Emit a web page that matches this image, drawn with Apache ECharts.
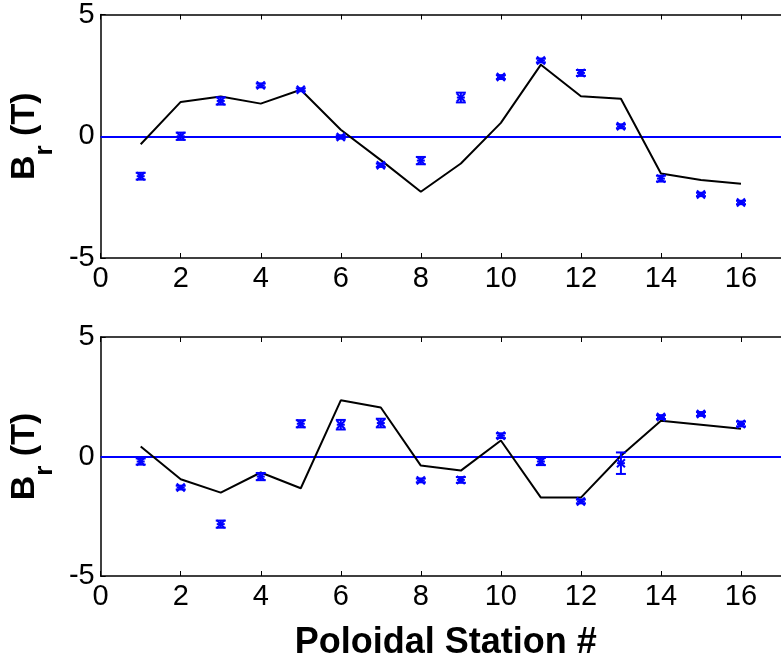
<!DOCTYPE html>
<html><head><meta charset="utf-8">
<script src="https://cdn.jsdelivr.net/npm/echarts@6/dist/echarts.min.js"></script>
<style>html,body{margin:0;padding:0;background:#fff}#c{width:781px;height:663px}</style>
</head><body><div id="c"></div>
<script>
const stations = [1,2,3,4,5,6,7,8,9,10,11,12,13,14,15,16];
const topModel = [-0.33,1.41,1.63,1.34,1.91,0.27,-0.98,-2.28,-1.12,0.55,2.94,1.64,1.54,-1.53,-1.80,-1.95];
const topMeas  = [-1.64,0.00,1.45,2.09,1.91,-0.03,-1.19,-1.00,1.59,2.43,3.11,2.60,0.41,-1.74,-2.39,-2.72];
const topErr   = [0.14,0.15,0.15,0.08,0.06,0.07,0.07,0.15,0.20,0.08,0.08,0.12,0.08,0.12,0.07,0.07];
const botModel = [0.42,-0.95,-1.51,-0.67,-1.33,2.35,2.05,-0.38,-0.59,0.67,-1.72,-1.72,0.03,1.50,1.33,1.16];
const botMeas  = [-0.21,-1.30,-2.83,-0.84,1.37,1.33,1.40,-1.00,-0.98,0.87,-0.21,-1.88,-0.28,1.65,1.78,1.36];
const botErr   = [0.13,0.08,0.15,0.15,0.15,0.20,0.18,0.08,0.12,0.10,0.15,0.08,0.45,0.08,0.08,0.10];
const xTickLabels = ['0','2','4','6','8','10','12','14','16'];
const yTickLabels = ['-5','0','5'];
const xMin = 0, xMax = 17, xStep = 2;
const yMin = -5, yMax = 5, yStep = 5;

const FONT = 'Liberation Sans, Arial, sans-serif';
const BLUE = '#0000ff';

function pairs(xs, ys){ return xs.map((x,i)=>[x, ys[i]]); }
function triples(xs, ys, es){ return xs.map((x,i)=>[x, ys[i], es[i]]); }

function errRender(params, api){
  const x = api.value(0), y = api.value(1), e = api.value(2);
  const c = api.coord([x, y]);
  const hi = api.coord([x, y + e]);
  const lo = api.coord([x, y - e]);
  const cap = 5, m = 4;
  const st = {stroke: BLUE, lineWidth: 2, fill: null};
  return {type: 'group', children: [
    {type:'line', shape:{x1:c[0], y1:hi[1], x2:c[0], y2:lo[1]}, style: st},
    {type:'line', shape:{x1:c[0]-cap, y1:hi[1], x2:c[0]+cap, y2:hi[1]}, style: st},
    {type:'line', shape:{x1:c[0]-cap, y1:lo[1], x2:c[0]+cap, y2:lo[1]}, style: st},
    {type:'line', shape:{x1:c[0]-m, y1:c[1]-m, x2:c[0]+m, y2:c[1]+m}, style: st},
    {type:'line', shape:{x1:c[0]-m, y1:c[1]+m, x2:c[0]+m, y2:c[1]-m}, style: st},
    {type:'line', shape:{x1:c[0]-m, y1:c[1], x2:c[0]+m, y2:c[1]}, style: st}
  ]};
}

const axisLineStyle = {color:'#000', width:1.5};
function xAxisBottom(gi, withName){
  const a = {
    type:'value', gridIndex:gi, position:'bottom', min:xMin, max:xMax, interval:xStep,
    axisLine:{show:true, onZero:false, lineStyle:axisLineStyle},
    axisTick:{show:true, inside:true, length:5, lineStyle:{color:'#000', width:1}},
    axisLabel:{show:true, margin:6, fontSize:29, color:'#000', fontFamily:FONT, showMaxLabel:false,
      formatter: v => { const s = String(v); return xTickLabels.indexOf(s) >= 0 ? s : ''; }},
    splitLine:{show:false}
  };
  if (withName){
    a.name = 'Poloidal Station #';
    a.nameLocation = 'middle';
    a.nameGap = 49;
    a.nameTextStyle = {fontSize:36, fontWeight:'bold', color:'#000', fontFamily:FONT, lineHeight:36,
      padding:[0,0,0,10]};
  }
  return a;
}
function xAxisTop(gi){
  return {
    type:'value', gridIndex:gi, position:'top', min:xMin, max:xMax, interval:xStep,
    axisLine:{show:true, onZero:false, lineStyle:axisLineStyle},
    axisTick:{show:true, inside:true, length:5, lineStyle:{color:'#000', width:1}},
    axisLabel:{show:false}, splitLine:{show:false}
  };
}
function yAxisLeft(gi){
  return {
    type:'value', gridIndex:gi, position:'left', min:yMin, max:yMax, interval:yStep,
    axisLine:{show:true, onZero:false, lineStyle:axisLineStyle},
    axisTick:{show:true, inside:true, length:5, lineStyle:{color:'#000', width:1}},
    axisLabel:{show:true, margin:6, fontSize:29, color:'#000', fontFamily:FONT,
      formatter: v => { const s = String(v); return yTickLabels.indexOf(s) >= 0 ? s : ''; }},
    splitLine:{show:false},
    name:'{b|B}{s|r}{b| (T)}',
    nameLocation:'middle', nameRotate:90, nameGap:36,
    nameTextStyle:{
      color:'#000', fontFamily:FONT,
      rich:{
        b:{fontSize:34, fontWeight:'bold', fontFamily:FONT, color:'#000', lineHeight:50, verticalAlign:'top'},
        s:{fontSize:26, fontWeight:'bold', fontFamily:FONT, color:'#000', lineHeight:50, verticalAlign:'bottom'}
      }
    }
  };
}

function panelSeries(xi, yi, model, meas, err){
  return [
    {type:'line', xAxisIndex:xi, yAxisIndex:yi, data:pairs(stations, model), symbol:'none',
      lineStyle:{color:'#000', width:2}, silent:true, z:3,
      markLine:{symbol:'none', silent:true, label:{show:false},
        lineStyle:{color:BLUE, width:2, type:'solid'}, data:[{yAxis:0}], z:2}},
    {type:'custom', xAxisIndex:xi, yAxisIndex:yi, data:triples(stations, meas, err),
      renderItem: errRender, z:4, silent:true}
  ];
}

const chart = echarts.init(document.getElementById('c'), null, {renderer:'canvas'});
chart.setOption({
  backgroundColor:'#fff',
  animation:false,
  grid:[
    {left:99, right:-7, top:14, height:244},
    {left:99, right:-7, top:337, height:239}
  ],
  xAxis:[xAxisBottom(0,false), xAxisTop(0), xAxisBottom(1,true), xAxisTop(1)],
  yAxis:[yAxisLeft(0), yAxisLeft(1)],
  series:[
    ...panelSeries(0, 0, topModel, topMeas, topErr),
    ...panelSeries(2, 1, botModel, botMeas, botErr)
  ]
});
</script>
</body></html>
